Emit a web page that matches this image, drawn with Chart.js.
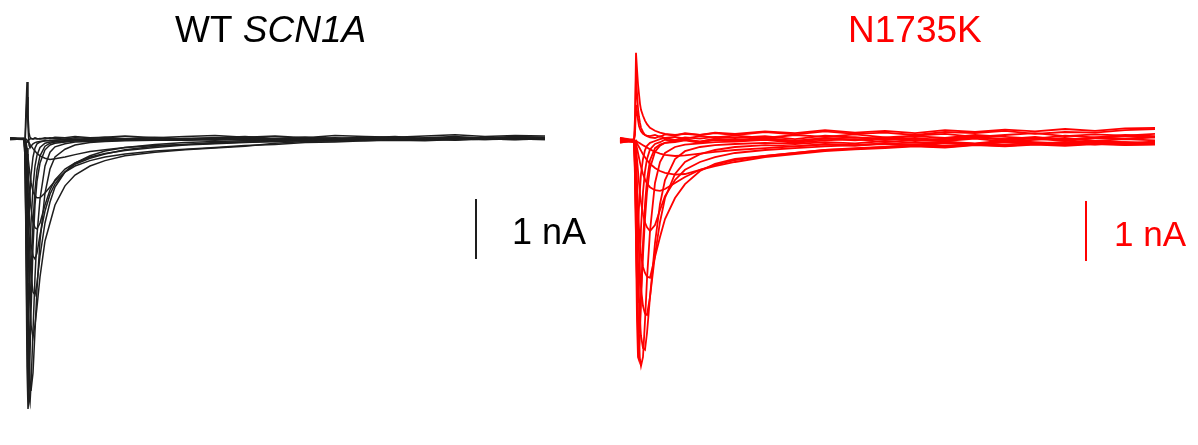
<!DOCTYPE html>
<html>
<head>
<meta charset="utf-8">
<script src="https://cdn.jsdelivr.net/npm/chart.js@4/dist/chart.umd.min.js"></script>
<style>
    body { margin: 0; background: #fff; }
    #wrap { position: relative; width: 1198px; height: 445px; }
    canvas { position: absolute; top: 0; }
</style>
</head>
<body>
<div id="wrap">
    <canvas id="wtChart" width="600" height="445" style="left:0"></canvas>
    <canvas id="mutChart" width="598" height="445" style="left:600px"></canvas>
</div>
<script>
// Time points (ms from step onset)
const timeMs = [
    -1.5, -0.1,
    0, 0.1, 0.2, 0.3, 0.4, 0.5, 0.6, 0.8, 1.0, 1.2,
    1.5, 2.0, 2.5, 3.0, 4.0, 5.0, 6.5, 8,
    10, 13, 16, 19, 22, 25, 28, 31, 34, 37, 40, 43, 46, 49, 52,
];

// WT SCN1A current traces (nA)
const wt1 = [0.02, 0.0,
    0.0, 0.5, 0.95, 0.4, 0.1, 0.03, 0.01, 0.0, 0.01, 0.0,
    0.01, 0.0, 0.02, 0.01, 0.0, 0.02, 0.01, 0.03,
    0.01, 0.03, 0.0, 0.02, 0.04, 0.01, 0.03, 0.0, 0.02, 0.04, 0.01, 0.03, 0.02, 0.04, 0.03];
const wt2 = [0.0, 0.01,
    -0.1, 0.3, 0.7, 0.2, -0.1, -0.15, -0.12, -0.08, -0.06, -0.05,
    -0.04, -0.03, -0.03, -0.02, -0.01, -0.02, 0.0, -0.01,
    0.0, 0.02, -0.01, 0.01, 0.03, 0.0, 0.02, 0.01, 0.03, 0.0, 0.02, 0.04, 0.01, 0.03, 0.02];
const wt3 = [-0.01, 0.0,
    -0.2, -0.8, -1.4, -1.6, -1.3, -0.9, -0.6, -0.3, -0.15, -0.08,
    -0.05, -0.03, -0.02, -0.02, -0.01, 0.0, -0.01, 0.01,
    0.0, -0.01, 0.01, 0.02, 0.0, 0.01, 0.03, 0.0, 0.01, 0.02, 0.0, 0.02, 0.01, 0.03, 0.02];
const wt4 = [0.01, 0.0,
    -0.3, -1.5, -2.6, -2.9, -2.5, -1.9, -1.4, -0.8, -0.45, -0.27,
    -0.14, -0.07, -0.05, -0.04, -0.03, -0.02, -0.01, -0.02,
    0.0, -0.01, 0.01, 0.0, 0.02, -0.01, 0.01, 0.0, 0.02, 0.01, 0.0, 0.02, 0.01, 0.0, 0.01];
const wt5 = [0.0, -0.01,
    -0.3, -1.6, -3.2, -3.9, -3.7, -3.0, -2.3, -1.4, -0.85, -0.52,
    -0.28, -0.12, -0.07, -0.05, -0.04, -0.03, -0.02, -0.02,
    -0.01, 0.0, -0.02, 0.01, 0.0, -0.01, 0.01, 0.02, 0.0, -0.01, 0.01, 0.0, 0.02, 0.01, 0.0];
const wt6 = [0.01, 0.0,
    -0.2, -1.8, -3.8, -4.5, -4.3, -3.6, -2.9, -1.8, -1.1, -0.7,
    -0.4, -0.18, -0.1, -0.07, -0.05, -0.03, -0.03, -0.02,
    -0.02, -0.01, 0.0, -0.02, 0.01, 0.0, -0.01, 0.01, 0.0, 0.02, -0.01, 0.01, 0.0, 0.02, 0.01];
const wt7 = [0.0, 0.01,
    -0.1, -0.9, -2.4, -3.7, -4.3, -4.4, -4.1, -3.2, -2.3, -1.6,
    -1.0, -0.45, -0.22, -0.13, -0.08, -0.05, -0.04, -0.03,
    -0.02, -0.02, -0.01, 0.0, -0.02, 0.01, -0.01, 0.0, 0.01, -0.01, 0.0, 0.02, 0.0, 0.01, 0.0];
const wt8 = [-0.01, 0.0,
    -0.05, -0.5, -1.5, -2.7, -3.6, -4.0, -4.2, -3.9, -3.2, -2.5,
    -1.7, -0.9, -0.5, -0.3, -0.17, -0.1, -0.06, -0.04,
    -0.03, -0.02, -0.02, -0.01, 0.0, -0.02, 0.0, -0.01, 0.01, 0.0, -0.01, 0.01, 0.0, -0.01, 0.01];
const wt9 = [0.0, 0.0,
    -0.05, -0.3, -0.9, -1.6, -2.3, -2.8, -3.1, -3.3, -3.1, -2.8,
    -2.3, -1.7, -1.4, -1.1, -0.78, -0.6, -0.45, -0.36,
    -0.28, -0.22, -0.18, -0.15, -0.12, -0.07, -0.04, -0.03, -0.01, -0.02, 0.0, -0.01, 0.01, 0.0, -0.01];
const wt10 = [0.01, 0.0,
    0.0, -0.15, -0.45, -0.85, -1.2, -1.5, -1.75, -1.95, -2.0, -1.9,
    -1.6, -1.2, -0.92, -0.75, -0.55, -0.42, -0.32, -0.25,
    -0.18, -0.12, -0.09, -0.06, -0.05, -0.03, -0.02, -0.03, -0.01, 0.0, -0.02, 0.0, -0.01, 0.01, 0.0];
const wt11 = [0.0, 0.01,
    0.0, -0.05, -0.15, -0.3, -0.45, -0.6, -0.72, -0.87, -0.95, -0.98,
    -0.98, -0.9, -0.8, -0.7, -0.55, -0.45, -0.36, -0.3,
    -0.25, -0.2, -0.17, -0.14, -0.11, -0.09, -0.06, -0.05, -0.03, -0.02, -0.03, -0.01, 0.0, -0.01, 0.0];
const wt12 = [0.0, 0.0,
    0.0, 0.0, -0.02, -0.04, -0.06, -0.09, -0.11, -0.16, -0.2, -0.24,
    -0.28, -0.32, -0.34, -0.33, -0.3, -0.26, -0.21, -0.18,
    -0.14, -0.11, -0.09, -0.07, -0.05, -0.04, -0.02, -0.03, -0.01, -0.02, 0.0, -0.01, 0.01, 0.0, -0.01];
const wt13 = [0.02, 0.01,
    0.0, -0.08, -0.05, -0.02, -0.01, 0.0, 0.01, 0.0, 0.02, 0.01,
    0.0, 0.02, 0.01, 0.03, 0.02, 0.04, 0.02, 0.03,
    0.05, 0.02, 0.04, 0.06, 0.03, 0.05, 0.02, 0.06, 0.04, 0.03, 0.05, 0.07, 0.04, 0.06, 0.05];
const wt14 = [0.0, 0.01,
    0.0, -0.2, -0.6, -1.1, -1.55, -1.95, -2.25, -2.55, -2.6, -2.4,
    -1.95, -1.4, -1.05, -0.8, -0.55, -0.4, -0.28, -0.2,
    -0.14, -0.09, -0.06, -0.04, -0.03, -0.02, -0.01, -0.02, 0.0, -0.01, 0.01, 0.0, -0.01, 0.0, 0.01];
const wt15 = [0.01, 0.0,
    0.0, -0.08, -0.25, -0.5, -0.75, -0.98, -1.15, -1.38, -1.48, -1.5,
    -1.4, -1.1, -0.85, -0.68, -0.5, -0.4, -0.3, -0.24,
    -0.19, -0.14, -0.1, -0.08, -0.06, -0.04, -0.03, -0.02, -0.03, -0.01, 0.0, -0.02, 0.0, -0.01, 0.0];

// N1735K current traces (nA)
const mut1 = [0.03, 0.0,
    0.4, 1.47, 1.2, 0.95, 0.78, 0.62, 0.52, 0.42, 0.34, 0.28,
    0.22, 0.17, 0.14, 0.12, 0.1, 0.12, 0.1, 0.13,
    0.1, 0.15, 0.11, 0.16, 0.12, 0.14, 0.1, 0.15, 0.13, 0.17, 0.12, 0.15, 0.14, 0.18, 0.2];
const mut2 = [-0.02, 0.01,
    0.2, 1.1, 0.8, 0.55, 0.4, 0.3, 0.22, 0.15, 0.1, 0.08,
    0.06, 0.05, 0.08, 0.05, 0.07, 0.04, 0.08, 0.06,
    0.09, 0.05, 0.1, 0.07, 0.11, 0.06, 0.09, 0.12, 0.07, 0.1, 0.13, 0.08, 0.11, 0.09, 0.12];
const mut3 = [0.05, 0.0,
    -0.6, -1.2, -1.5, -1.4, -1.1, -0.8, -0.55, -0.3, -0.15, -0.08,
    -0.03, 0.0, 0.03, 0.05, 0.02, 0.06, 0.04, 0.07,
    0.05, 0.08, 0.03, 0.09, 0.06, 0.04, 0.08, 0.05, 0.1, 0.07, 0.04, 0.09, 0.06, 0.1, 0.08];
const mut4 = [-0.03, 0.02,
    -0.5, -1.6, -2.4, -2.7, -2.4, -1.9, -1.45, -0.85, -0.5, -0.3,
    -0.14, -0.05, -0.02, 0.02, 0.0, 0.03, -0.01, 0.04,
    0.02, 0.05, 0.0, 0.04, 0.06, 0.02, 0.05, 0.01, 0.06, 0.03, 0.07, 0.02, 0.05, 0.08, 0.06];
const mut5 = [0.0, -0.02,
    -0.4, -1.7, -3.0, -3.6, -3.65, -3.2, -2.6, -1.7, -1.05, -0.65,
    -0.32, -0.12, -0.06, -0.03, -0.02, 0.01, -0.03, 0.02,
    0.0, 0.03, -0.02, 0.04, 0.01, 0.05, 0.0, 0.03, 0.06, 0.02, 0.04, 0.0, 0.05, 0.03, 0.06];
const mut6 = [0.04, 0.0,
    -0.2, -1.0, -2.0, -2.9, -3.4, -3.65, -3.75, -3.6, -3.0, -2.3,
    -1.5, -0.7, -0.35, -0.2, -0.1, -0.06, -0.04, -0.02,
    -0.01, 0.02, -0.03, 0.01, 0.03, -0.02, 0.02, 0.0, 0.04, -0.01, 0.02, 0.05, 0.0, 0.03, 0.01];
const mut7 = [-0.01, 0.03,
    -0.1, -0.6, -1.3, -2.0, -2.6, -3.0, -3.25, -3.45, -3.48, -3.2,
    -2.6, -1.7, -1.05, -0.65, -0.3, -0.17, -0.1, -0.07,
    -0.05, -0.03, -0.05, -0.02, -0.04, 0.0, -0.03, -0.01, -0.04, 0.01, -0.02, -0.04, 0.0, -0.02, -0.05];
const mut8 = [0.02, -0.01,
    -0.05, -0.3, -0.7, -1.1, -1.45, -1.7, -1.9, -2.1, -2.2, -2.26,
    -2.28, -1.93, -1.6, -1.3, -0.95, -0.72, -0.5, -0.38,
    -0.3, -0.25, -0.2, -0.15, -0.12, -0.1, -0.07, -0.08, -0.05, -0.06, -0.03, -0.05, -0.02, -0.04, -0.03];
const mut9 = [0.0, 0.02,
    -0.05, -0.4, -0.9, -1.4, -1.85, -2.2, -2.45, -2.75, -2.88, -2.9,
    -2.6, -1.9, -1.35, -0.95, -0.55, -0.35, -0.22, -0.15,
    -0.1, -0.07, -0.09, -0.05, -0.07, -0.04, -0.06, -0.03, -0.05, -0.02, -0.04, -0.06, -0.03, -0.05, -0.02];
const mut10 = [-0.02, 0.0,
    0.0, -0.05, -0.12, -0.2, -0.28, -0.36, -0.43, -0.55, -0.64, -0.71,
    -0.77, -0.82, -0.83, -0.8, -0.7, -0.6, -0.48, -0.4,
    -0.32, -0.25, -0.2, -0.15, -0.13, -0.1, -0.08, -0.1, -0.06, -0.08, -0.05, -0.07, -0.04, -0.06, -0.05];
const mut11 = [0.01, 0.0,
    0.0, -0.02, -0.04, -0.07, -0.1, -0.13, -0.16, -0.22, -0.27, -0.32,
    -0.38, -0.45, -0.5, -0.53, -0.56, -0.55, -0.48, -0.42,
    -0.35, -0.27, -0.22, -0.17, -0.14, -0.12, -0.09, -0.11, -0.07, -0.09, -0.06, -0.08, -0.05, -0.07, -0.06];
const mut12 = [-0.01, 0.01,
    0.0, 0.01, -0.01, -0.02, -0.03, -0.04, -0.05, -0.07, -0.09, -0.11,
    -0.14, -0.18, -0.21, -0.23, -0.25, -0.24, -0.21, -0.18,
    -0.15, -0.12, -0.09, -0.06, -0.08, -0.04, -0.06, -0.02, -0.05, -0.01, -0.04, -0.02, 0.0, -0.03, -0.01];
const mut13 = [0.05, 0.02,
    0.1, 0.6, 0.5, 0.35, 0.25, 0.2, 0.16, 0.12, 0.1, 0.09,
    0.08, 0.1, 0.07, 0.11, 0.09, 0.13, 0.1, 0.14,
    0.12, 0.16, 0.13, 0.18, 0.14, 0.17, 0.13, 0.18, 0.15, 0.19, 0.16, 0.2, 0.17, 0.21, 0.22];
const mut14 = [0.01, -0.01,
    -0.3, -1.3, -2.4, -3.0, -3.2, -3.0, -2.6, -1.9, -1.3, -0.85,
    -0.45, -0.18, -0.08, -0.03, 0.0, 0.02, -0.01, 0.03,
    0.01, 0.04, 0.0, 0.05, 0.02, 0.06, 0.01, 0.04, 0.07, 0.03, 0.05, 0.02, 0.06, 0.04, 0.07];
const mut15 = [0.0, 0.01,
    0.0, -0.12, -0.3, -0.5, -0.7, -0.88, -1.02, -1.22, -1.36, -1.44,
    -1.5, -1.4, -1.15, -0.92, -0.65, -0.48, -0.35, -0.27,
    -0.2, -0.15, -0.12, -0.09, -0.07, -0.05, -0.08, -0.04, -0.06, -0.02, -0.05, -0.03, -0.06, -0.02, -0.04];

// Scale bar: 1 nA
const scaleBarTime = 45.1;
const scaleBarTop = -1.0;
const scaleBarLength = 1.0;

const wtTraces = [wt1, wt2, wt3, wt4, wt5, wt6, wt7, wt8, wt9, wt10, wt11, wt12, wt13, wt14, wt15];
const mutTraces = [mut1, mut2, mut3, mut4, mut5, mut6, mut7, mut8, mut9, mut10, mut11, mut12, mut13, mut14, mut15];

function toPoints(values) {
    return timeMs.map((t, i) => ({ x: t, y: values[i] }));
}

function makeChart(id, traces, color, lineWidth, range, drawText) {
    const datasets = traces.map((tr) => ({
        data: toPoints(tr),
        borderColor: color,
        borderWidth: lineWidth,
        pointRadius: 0,
        tension: 0,
        fill: false,
    }));
    datasets.push({
        data: [
            { x: scaleBarTime, y: scaleBarTop },
            { x: scaleBarTime, y: scaleBarTop - scaleBarLength },
        ],
        borderColor: color,
        borderWidth: 2,
        pointRadius: 0,
        fill: false,
    });
    return new Chart(document.getElementById(id), {
        type: "line",
        data: { datasets: datasets },
        options: {
            responsive: false,
            animation: false,
            layout: { padding: 0 },
            plugins: {
                legend: { display: false },
                tooltip: { enabled: false },
            },
            scales: {
                x: { type: "linear", display: false, min: range.xMin, max: range.xMax },
                y: { type: "linear", display: false, min: range.yMin, max: range.yMax },
            },
        },
        plugins: [{ id: "labels", afterDraw: drawText }],
    });
}

function barLabel(chart, text, font, color, dx) {
    const ctx = chart.ctx;
    const x = chart.scales.x.getPixelForValue(scaleBarTime) + dx;
    const y = chart.scales.y.getPixelForValue(scaleBarTop - scaleBarLength / 2) + 15;
    ctx.save();
    ctx.fillStyle = color;
    ctx.font = font;
    ctx.textBaseline = "alphabetic";
    ctx.fillText(text, x, y);
    ctx.restore();
}

// WT chart
makeChart("wtChart", wtTraces, "#1e1e1e", 1.5,
    { xMin: -2.5, xMax: 57.5, yMin: -5.1, yMax: 2.317 },
    function (chart) {
        const ctx = chart.ctx;
        ctx.save();
        ctx.fillStyle = "#000";
        ctx.textBaseline = "alphabetic";
        ctx.font = '37px "Liberation Sans", Arial, sans-serif';
        ctx.fillText("WT ", 175, 42);
        const w = ctx.measureText("WT ").width;
        ctx.font = 'italic 37px "Liberation Sans", Arial, sans-serif';
        ctx.fillText("SCN1A", 175 + w, 42);
        ctx.restore();
        barLabel(chart, "1 nA", '36px "Liberation Sans", Arial, sans-serif', "#000", 36);
    });

// N1735K chart
makeChart("mutChart", mutTraces, "#ff0000", 1.8,
    { xMin: -3.5, xMax: 56.3, yMin: -5.067, yMax: 2.35 },
    function (chart) {
        const ctx = chart.ctx;
        ctx.save();
        ctx.fillStyle = "#ff0000";
        ctx.textBaseline = "alphabetic";
        ctx.font = '37px "Liberation Sans", Arial, sans-serif';
        ctx.fillText("N1735K", 248, 42);
        ctx.restore();
        barLabel(chart, "1 nA", '35px "Liberation Sans", Arial, sans-serif', "#ff0000", 28);
    });
</script>
</body>
</html>
